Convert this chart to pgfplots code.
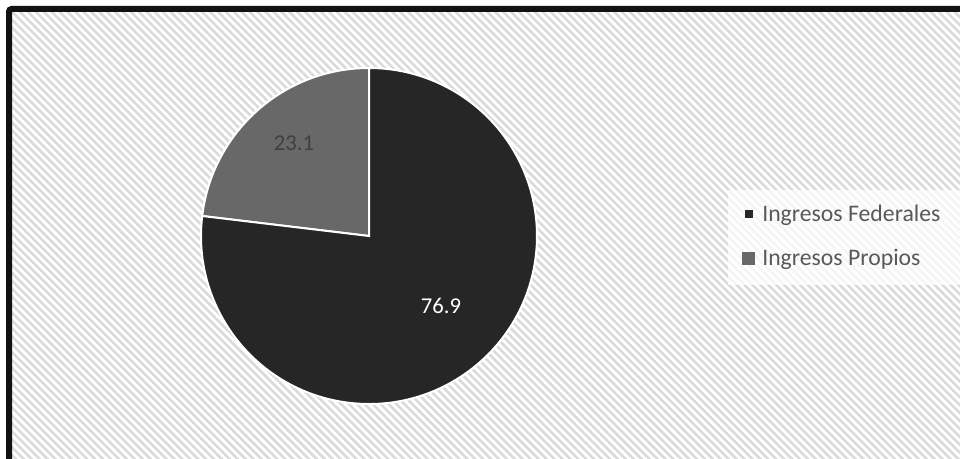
\documentclass[border=0pt]{standalone}
\usepackage{pgfplots}
\pgfplotsset{compat=1.18}
\usepackage{pgfplotstable}
\usepackage{fontspec}
\setmainfont{Carlito}
\usetikzlibrary{patterns.meta}
\definecolor{darkslice}{HTML}{262626}
\definecolor{lightslice}{HTML}{686868}
\definecolor{legtext}{HTML}{595959}
\definecolor{labdark}{HTML}{404040}
\definecolor{hatch}{HTML}{DADADA}
\definecolor{framec}{HTML}{111111}
\pgfplotstableread{
label value
Federales 76.9
Propios 23.1
}\piedata
\begin{document}
\pgfplotstablegetelem{0}{value}\of\piedata\xdef\vF{\pgfplotsretval}%
\pgfplotstablegetelem{1}{value}\of\piedata\xdef\vP{\pgfplotsretval}%
\pgfmathsetmacro\aP{90+3.6*\vP}\xdef\aP{\aP}%
\begin{tikzpicture}
\begin{scope}[x=0.75pt,y=-0.75pt]
\useasboundingbox (0,0) rectangle (960,459);
\clip (0,0) rectangle (960,459);
\fill[white] (0,0) rectangle (960,459);
\fill[pattern={Lines[angle=-45,distance=4.2pt,line width=1.9pt]},pattern color=hatch] (9,9) rectangle (975,475);
\draw[framec,line width=4.5pt,rounded corners=2pt] (9,490) -- (9,9) -- (990,9);
\fill[white,opacity=0.75] (728,190) rectangle (960,285);
\end{scope}
\begin{axis}[at={(276.75pt,-177pt)},anchor=center,scale only axis,
  width=252pt,height=252pt,xmin=-1,xmax=1,ymin=-1,ymax=1,
  hide axis,clip=false,
  legend cell align=left,
  legend style={at={(1.6101,0.5923)},anchor=north west,draw=none,fill=none,
    inner sep=0pt,nodes={inner sep=0pt,text=legtext},
    font=\fontsize{17.8}{21}\selectfont,row sep=19.25pt,
    /tikz/every odd column/.append style={column sep=5.25pt}}]
\fill[lightslice,draw=white,line width=1.5pt] (axis cs:0,0) -- ([shift={(90:126pt)}]axis cs:0,0) arc[start angle=90,end angle=\aP,radius=126pt] -- cycle;
\fill[darkslice,draw=white,line width=1.5pt] (axis cs:0,0) -- ([shift={(\aP:126pt)}]axis cs:0,0) arc[start angle=\aP,end angle=450,radius=126pt] -- cycle;
\node[text=labdark,font=\fontsize{17}{20}\selectfont] at (axis cs:-0.446,0.554) {\vP};
\node[text=white,font=\fontsize{17}{20}\selectfont] at (axis cs:0.429,-0.417) {\vF};
\addlegendimage{legend image code/.code={\path[draw=none,fill=none] (0pt,-4.9pt) rectangle (9.75pt,4.9pt); \fill[darkslice,draw=none] (1.9pt,-3pt) rectangle (7.9pt,3pt);}}
\addlegendentry{Ingresos Federales}
\addlegendimage{legend image code/.code={\fill[lightslice,draw=none] (0pt,-4.875pt) rectangle (9.75pt,4.875pt);}}
\addlegendentry{Ingresos Propios}
\end{axis}
\end{tikzpicture}
\end{document}
